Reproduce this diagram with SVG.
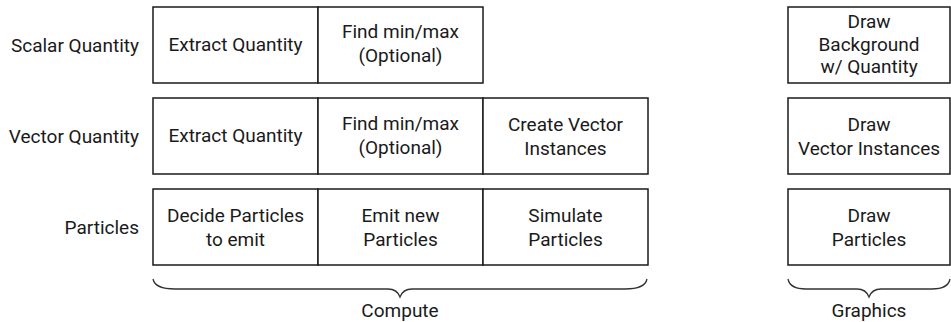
<svg xmlns="http://www.w3.org/2000/svg" width="951" height="322" viewBox="0 0 951 322">
<style>
.box{fill:#fff;stroke:#1a1a1a;stroke-width:1.5}
.t{font-family:Roboto,"Liberation Sans",sans-serif;font-size:19px;fill:#1a1a1a;text-anchor:middle}
.lbl{font-family:Roboto,"Liberation Sans",sans-serif;font-size:19px;fill:#1a1a1a;text-anchor:end}
.brace{fill:none;stroke:#333;stroke-width:1.3}
</style>
<rect width="951" height="322" fill="#fff"/>
<g id="row-labels">
<text class="lbl" x="139" y="52">Scalar Quantity</text>
<text class="lbl" x="139" y="143">Vector Quantity</text>
<text class="lbl" x="139" y="234">Particles</text>
</g>
<g id="s1"><rect class="box" x="153" y="7" width="165" height="76"/><text class="t" x="235.5" y="51">Extract Quantity</text></g>
<g id="s2"><rect class="box" x="318" y="7" width="165" height="76"/><text class="t" x="400.5" y="38">Find min/max</text><text class="t" x="400.5" y="62">(Optional)</text></g>
<g id="v1"><rect class="box" x="153" y="98" width="165" height="76"/><text class="t" x="235.5" y="142">Extract Quantity</text></g>
<g id="v2"><rect class="box" x="318" y="98" width="165" height="76"/><text class="t" x="400.5" y="130">Find min/max</text><text class="t" x="400.5" y="154">(Optional)</text></g>
<g id="v3"><rect class="box" x="483" y="98" width="165" height="76"/><text class="t" x="565.5" y="131">Create Vector</text><text class="t" x="565.5" y="155">Instances</text></g>
<g id="p1"><rect class="box" x="153" y="189" width="165" height="76"/><text class="t" x="235.5" y="222">Decide Particles</text><text class="t" x="235.5" y="246">to emit</text></g>
<g id="p2"><rect class="box" x="318" y="189" width="165" height="76"/><text class="t" x="400.5" y="222">Emit new</text><text class="t" x="400.5" y="246">Particles</text></g>
<g id="p3"><rect class="box" x="483" y="189" width="165" height="76"/><text class="t" x="565.5" y="222">Simulate</text><text class="t" x="565.5" y="246">Particles</text></g>
<g id="g1"><rect class="box" x="788" y="7" width="162" height="76"/><text class="t" x="869" y="28">Draw</text><text class="t" x="869" y="50.5">Background</text><text class="t" x="869" y="73">w/ Quantity</text></g>
<g id="g2"><rect class="box" x="788" y="98" width="162" height="76"/><text class="t" x="869" y="131">Draw</text><text class="t" x="869" y="155">Vector Instances</text></g>
<g id="g3"><rect class="box" x="788" y="189" width="162" height="76"/><text class="t" x="869" y="222">Draw</text><text class="t" x="869" y="246">Particles</text></g>
<g id="connectors">
<path class="brace" d="M153,279 Q155,289 175,289 L388,289 Q397,289 400,297 Q403,289 412,289 L625,289 Q645,289 647,279"/>
<path class="brace" d="M788,279 Q790,289 806,289 L857,289 Q866,289 869,297 Q872,289 881,289 L932,289 Q948,289 950,279"/>
</g>
<g id="brace-labels">
<text class="t" x="400" y="317">Compute</text>
<text class="t" x="869" y="317">Graphics</text>
</g>
</svg>
